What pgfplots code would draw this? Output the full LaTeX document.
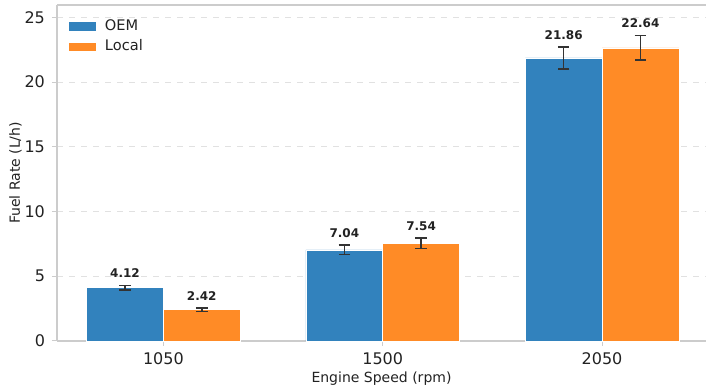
\documentclass[border=0pt]{standalone}
\usepackage{fontspec}
\setmainfont{DejaVu Sans}
\usepackage{pgfplots}
\usepackage{pgfplotstable}
\pgfplotsset{compat=1.18}

\definecolor{oem}{RGB}{50,130,189}
\definecolor{local}{RGB}{255,139,38}
\definecolor{spine}{RGB}{204,204,204}
\definecolor{gridc}{RGB}{225,225,225}
\definecolor{errc}{RGB}{51,51,51}
\definecolor{txt}{RGB}{34,34,34}

% x: category index, v: mean fuel rate, e: error half-width
\pgfplotstableread{
x v e
0 4.12 0.18
1 7.04 0.36
2 21.86 0.85
}\oemdata
\pgfplotstableread{
x v e
0 2.42 0.13
1 7.54 0.41
2 22.64 0.96
}\localdata

\begin{document}
\begin{tikzpicture}
\begin{axis}[
  scale only axis,
  width=324.5pt, height=168pt,
  xmin=-0.485, xmax=2.474,
  ymin=0, ymax=25.95,
  xtick={0,1,2},
  xticklabels={1050,1500,2050},
  ytick={0,5,10,15,20,25},
  /pgf/number format/assume math mode=true,
  ticklabel style={font=\fontsize{8}{9}\selectfont, text=txt},
  tick style={spine, line width=0.5pt},
  tick align=outside,
  major tick length=2.5pt,
  xtick pos=bottom, ytick pos=left,
  axis line style={spine, line width=0.6pt},
  separate axis lines,
  axis x line*=bottom,
  axis y line*=left,
  ymajorgrids,
  grid style={gridc, dashed, line width=0.4pt},
  xlabel={Engine Speed (rpm)},
  ylabel={Fuel Rate (L/h)},
  label style={font=\fontsize{7}{8}\selectfont, text=txt},
  xlabel style={yshift=3.5pt},
  ylabel style={yshift=-5.5pt},
  legend style={at={(rel axis cs:0,1)}, anchor=north west,
    xshift=2.5pt, yshift=-3pt, draw=none, fill=none,
    font=\fontsize{7.3}{8}\selectfont, text=txt,
    row sep=-0.8pt,
    nodes={inner xsep=4pt}},
  legend cell align=left,
  legend image code/.code={\fill[#1] (0pt,-2.3pt) rectangle (14pt,2.3pt);},
  clip=false,
]
\coordinate (ll) at (rel axis cs:0,0);
\coordinate (ur) at (rel axis cs:1,1);

\addplot[ybar, bar width=0.35, bar shift=0pt, fill=oem, draw=white, line width=0.3pt,
  error bars/.cd, y dir=both, y explicit,
  error bar style={errc, line width=0.8pt},
  error mark options={errc, line width=0.8pt, mark size=2.9pt, rotate=90}]
  table[x expr=\thisrow{x}-0.175, y=v, y error=e] {\oemdata};
\addlegendentry{OEM}

\addplot[ybar, bar width=0.35, bar shift=0pt, fill=local, draw=white, line width=0.3pt,
  error bars/.cd, y dir=both, y explicit,
  error bar style={errc, line width=0.8pt},
  error mark options={errc, line width=0.8pt, mark size=2.9pt, rotate=90}]
  table[x expr=\thisrow{x}+0.175, y=v, y error=e] {\localdata};
\addlegendentry{Local}

% value labels above the error bars
\addplot[only marks, mark=none, forget plot, point meta=explicit,
  nodes near coords={\pgfmathprintnumber[fixed, fixed zerofill, precision=2]{\pgfplotspointmeta}},
  every node near coord/.style={anchor=south, inner sep=0pt, yshift=3.5pt,
    font=\bfseries\fontsize{6}{7}\selectfont, text=txt}]
  table[x expr=\thisrow{x}-0.175, y expr=\thisrow{v}+\thisrow{e}, meta=v] {\oemdata};
\addplot[only marks, mark=none, forget plot, point meta=explicit,
  nodes near coords={\pgfmathprintnumber[fixed, fixed zerofill, precision=2]{\pgfplotspointmeta}},
  every node near coord/.style={anchor=south, inner sep=0pt, yshift=3.5pt,
    font=\bfseries\fontsize{6}{7}\selectfont, text=txt}]
  table[x expr=\thisrow{x}+0.175, y expr=\thisrow{v}+\thisrow{e}, meta=v] {\localdata};
\end{axis}
% top frame line
\draw[spine, line width=0.6pt] (ll |- ur) -- (ur);
\pgfresetboundingbox
\useasboundingbox ([shift={(-28.5pt,-24pt)}]ll) rectangle ([shift={(0pt,2.5pt)}]ur);
\end{tikzpicture}
\end{document}
